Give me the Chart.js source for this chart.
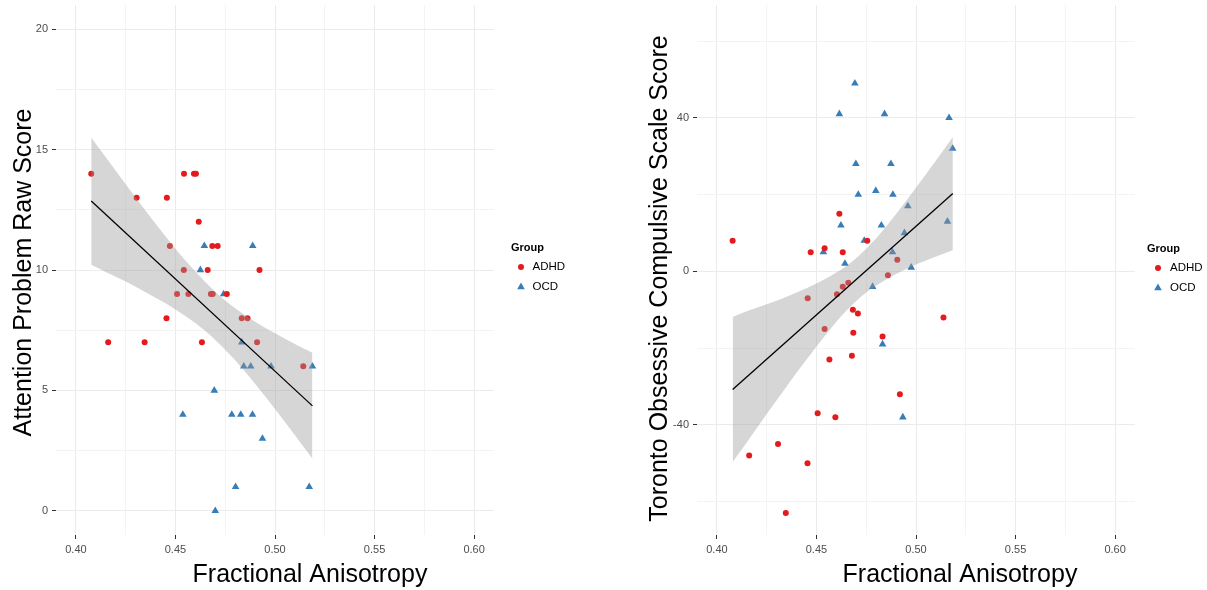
<!DOCTYPE html>
<html>
<head>
<meta charset="utf-8">
<script src="https://cdn.jsdelivr.net/npm/chart.js@4.4.1/dist/chart.umd.min.js"></script>
<style>
html,body{margin:0;padding:0;background:#fff;width:1207px;height:590px;overflow:hidden;}
canvas{position:absolute;top:0;}
#c1{left:0;}
#c2{left:603px;}
</style>
</head>
<body>
<canvas id="c1" width="603" height="590"></canvas>
<canvas id="c2" width="604" height="590"></canvas>
<script>
// ---------- DATA ----------
const groups = ['ADHD', 'OCD'];
const groupColors = ['#E41A1C', '#377EB8'];

// Panel 1: Attention Problem Raw Score vs Fractional Anisotropy
const attnAdhdFA = [0.4077,0.4543,0.4593,0.4603,0.4305,0.4457,0.4617,0.4685,0.4712,0.4472,0.4542,0.4662,0.4922,0.4508,0.4565,0.4678,0.4687,0.4758,0.4455,0.4833,0.4862,0.4162,0.4345,0.4633,0.4910,0.5142];
const attnAdhdScore = [14,14,14,14,13,13,12,11,11,11,10,10,10,9,9,9,9,9,8,8,8,7,7,7,7,6];
const attnOcdFA = [0.4645,0.4888,0.4625,0.4742,0.4833,0.4843,0.4878,0.4980,0.5188,0.4695,0.4537,0.4783,0.4828,0.4887,0.4937,0.4802,0.5172,0.4700];
const attnOcdScore = [11,11,10,9,7,6,6,6,6,5,4,4,4,4,3,1,1,0];
const attnFitFA = [0.4077, 0.5188];
const attnFitValue = [12.86, 4.36];
const attnBandFA = [0.4077,0.415,0.425,0.435,0.445,0.455,0.465,0.475,0.485,0.495,0.505,0.5188];
const attnBandLow = [10.22,9.92,9.52,9.08,8.62,8.09,7.47,6.69,5.78,4.76,3.69,2.16];
const attnBandHigh = [15.50,14.68,13.56,12.46,11.40,10.39,9.50,8.73,8.12,7.60,7.15,6.56];

// Panel 2: Toronto Obsessive Compulsive Scale Score vs Fractional Anisotropy
const tocsAdhdFA = [0.4615,0.4079,0.4755,0.4471,0.4541,0.4632,0.4906,0.4859,0.4632,0.4660,0.4603,0.4456,0.4683,0.4708,0.5138,0.4541,0.4685,0.4832,0.4565,0.4678,0.4919,0.4506,0.4595,0.4307,0.4162,0.4455,0.4346];
const tocsAdhdScore = [15,8,8,5,6,5,3,-1,-4,-3,-6,-7,-10,-11,-12,-15,-16,-17,-23,-22,-32,-37,-38,-45,-48,-50,-63];
const tocsOcdFA = [0.4693,0.4615,0.4842,0.5166,0.5184,0.4698,0.4874,0.4710,0.4798,0.4884,0.4959,0.4623,0.4826,0.5158,0.4740,0.4942,0.4535,0.4882,0.4643,0.4976,0.4782,0.4832,0.4934];
const tocsOcdScore = [49,41,41,40,32,28,28,20,21,20,17,12,12,13,8,10,5,5,2,1,-4,-19,-38];
const tocsFitFA = [0.4079, 0.5185];
const tocsFitValue = [-30.8, 20.3];
const tocsBandFA = [0.4079,0.415,0.425,0.435,0.445,0.455,0.465,0.475,0.485,0.495,0.505,0.5185];
const tocsBandLow = [-49.7,-44.6,-37.2,-30.0,-23.0,-16.3,-10.3,-5.5,-2.1,0.6,2.8,5.5];
const tocsBandHigh = [-11.9,-10.4,-8.6,-6.6,-4.4,-1.8,1.4,5.9,11.7,18.3,25.3,35.0];

// Ticks
const xGridValues = [0.40,0.425,0.45,0.475,0.50,0.525,0.55,0.575,0.60];
const xTickLabels = ['0.40','0.45','0.50','0.55','0.60'];
const xTickValues = [0.40,0.45,0.50,0.55,0.60];
const attnGridValues = [0,2.5,5,7.5,10,12.5,15,17.5,20];
const attnTickValues = [0,5,10,15,20];
const attnTickLabels = ['0','5','10','15','20'];
const tocsGridValues = [-60,-40,-20,0,20,40,60];
const tocsTickValues = [-40,0,40];
const tocsTickLabels = ['-40','0','40'];

const xTitle = 'Fractional Anisotropy';
const attnTitle = 'Attention Problem Raw Score';
const tocsTitle = 'Toronto Obsessive Compulsive Scale Score';
const legendTitle = 'Group';

// ---------- CHART ----------
const FONT = '"Liberation Sans", Arial, Helvetica, sans-serif';
Chart.defaults.font.family = FONT;
Chart.defaults.color = '#4d4d4d';

function idx(vals, v){ return vals.findIndex(m => Math.abs(m - v) < 1e-9); }
function pts(xs, ys){ return xs.map((x,i)=>({x:x, y:ys[i]})); }

function scaleOpts(gridVals, tickVals, tickLabels, min, max, size, horizontal){
  return {
    type:'linear', min:min, max:max,
    afterBuildTicks: s => { s.ticks = gridVals.map(v => ({value:v})); },
    afterFit: s => {
      if (horizontal) { s.height = size; s.paddingLeft = 0; s.paddingRight = 0; }
      else { s.width = size; s.paddingTop = 0; s.paddingBottom = 0; }
    },
    border:{display:false},
    grid:{
      color: c => idx(tickVals, c.tick ? c.tick.value : NaN) >= 0 ? '#ebebeb' : '#f3f3f3',
      lineWidth:1,
      tickLength:4,
      tickWidth:1,
      tickColor: c => idx(tickVals, c.tick ? c.tick.value : NaN) >= 0 ? '#333333' : 'rgba(0,0,0,0)'
    },
    ticks:{
      autoSkip:false, maxRotation:0, minRotation:0,
      padding:4,
      font:{size:11},
      color:'#4d4d4d',
      callback: v => { const i = idx(tickVals, v); return i >= 0 ? tickLabels[i] : ''; }
    }
  };
}

const panelText = {
  id:'panelText',
  afterDraw(chart, args, o){
    const ctx = chart.ctx;
    ctx.save();
    ctx.fillStyle = '#000';
    ctx.font = '25px ' + FONT;
    ctx.textAlign = 'center';
    ctx.textBaseline = 'alphabetic';
    ctx.fillText(o.xTitle, o.xTitleX, o.xTitleY);
    ctx.save();
    ctx.translate(o.yTitleX, o.yTitleY);
    ctx.rotate(-Math.PI/2);
    ctx.fillText(o.yTitle, 0, 0);
    ctx.restore();
    // legend
    ctx.textAlign = 'left';
    ctx.textBaseline = 'middle';
    ctx.fillStyle = '#000';
    ctx.font = 'bold 11px ' + FONT;
    ctx.fillText(o.legendTitle, o.legX, o.legTitleY);
    chart.data.datasets.filter(d => d.legendItem).forEach((d, i) => {
      const y = o.legItemY[i];
      ctx.fillStyle = d.backgroundColor;
      Chart.helpers.drawPoint(ctx, {pointStyle:d.pointStyle, radius:d.pointRadius, rotation:0, borderWidth:0}, o.legMarkX, y);
      ctx.fillStyle = '#000';
      ctx.font = '11.5px ' + FONT;
      ctx.fillText(d.label, o.legTextX, y);
    });
    ctx.restore();
  }
};

function makeChart(id, p){
  const datasets = [
    {label:groups[0], legendItem:true, data:pts(p.aFA, p.aS), showLine:false, pointStyle:'circle', pointRadius:3, pointBorderWidth:0, borderWidth:0, backgroundColor:groupColors[0], borderColor:groupColors[0], order:2},
    {label:groups[1], legendItem:true, data:pts(p.oFA, p.oS), showLine:false, pointStyle:'triangle', pointRadius:4.4, pointBorderWidth:0, borderWidth:0, backgroundColor:groupColors[1], borderColor:groupColors[1], order:2},
    {label:'upper', data:pts(p.bFA, p.bHigh), pointRadius:0, borderWidth:0, borderColor:'rgba(0,0,0,0)', backgroundColor:'rgba(153,153,153,0.4)', fill:'+1', cubicInterpolationMode:'monotone', order:1},
    {label:'lower', data:pts(p.bFA, p.bLow), pointRadius:0, borderWidth:0, borderColor:'rgba(0,0,0,0)', fill:false, cubicInterpolationMode:'monotone', order:1},
    {label:'fit', data:pts(p.fFA, p.fV), pointRadius:0, borderWidth:1.3, borderColor:'#000000', fill:false, order:0}
  ];
  return new Chart(document.getElementById(id), {
    type:'line',
    data:{datasets:datasets},
    plugins:[panelText],
    options:{
      responsive:false, animation:false, events:[],
      layout:{padding:{left:0, top:5, right:p.padRight, bottom:0}},
      scales:{
        x: scaleOpts(xGridValues, xTickValues, xTickLabels, 0.39, 0.61, 55, true),
        y: scaleOpts(p.yGrid, p.yTicks, p.yLabels, p.yMin, p.yMax, p.yWidth, false)
      },
      plugins:{
        legend:{display:false}, tooltip:{enabled:false},
        panelText:p.text
      }
    }
  });
}

makeChart('c1', {
  aFA:attnAdhdFA, aS:attnAdhdScore, oFA:attnOcdFA, oS:attnOcdScore,
  bFA:attnBandFA, bLow:attnBandLow, bHigh:attnBandHigh, fFA:attnFitFA, fV:attnFitValue,
  yGrid:attnGridValues, yTicks:attnTickValues, yLabels:attnTickLabels, yMin:-1, yMax:21, yWidth:56, padRight:109,
  text:{xTitle:xTitle, xTitleX:310, xTitleY:582, yTitle:attnTitle, yTitleX:31, yTitleY:272.5,
        legendTitle:legendTitle, legX:511, legTitleY:248, legMarkX:521, legTextX:532.5, legItemY:[267,287]}
});
makeChart('c2', {
  aFA:tocsAdhdFA, aS:tocsAdhdScore, oFA:tocsOcdFA, oS:tocsOcdScore,
  bFA:tocsBandFA, bLow:tocsBandLow, bHigh:tocsBandHigh, fFA:tocsFitFA, fV:tocsFitValue,
  yGrid:tocsGridValues, yTicks:tocsTickValues, yLabels:tocsTickLabels, yMin:-68.7, yMax:69.4, yWidth:94, padRight:72,
  text:{xTitle:xTitle, xTitleX:357, xTitleY:582, yTitle:tocsTitle, yTitleX:64, yTitleY:278.5,
        legendTitle:legendTitle, legX:544, legTitleY:249, legMarkX:555, legTextX:567, legItemY:[268,288]}
});
</script>
</body>
</html>
